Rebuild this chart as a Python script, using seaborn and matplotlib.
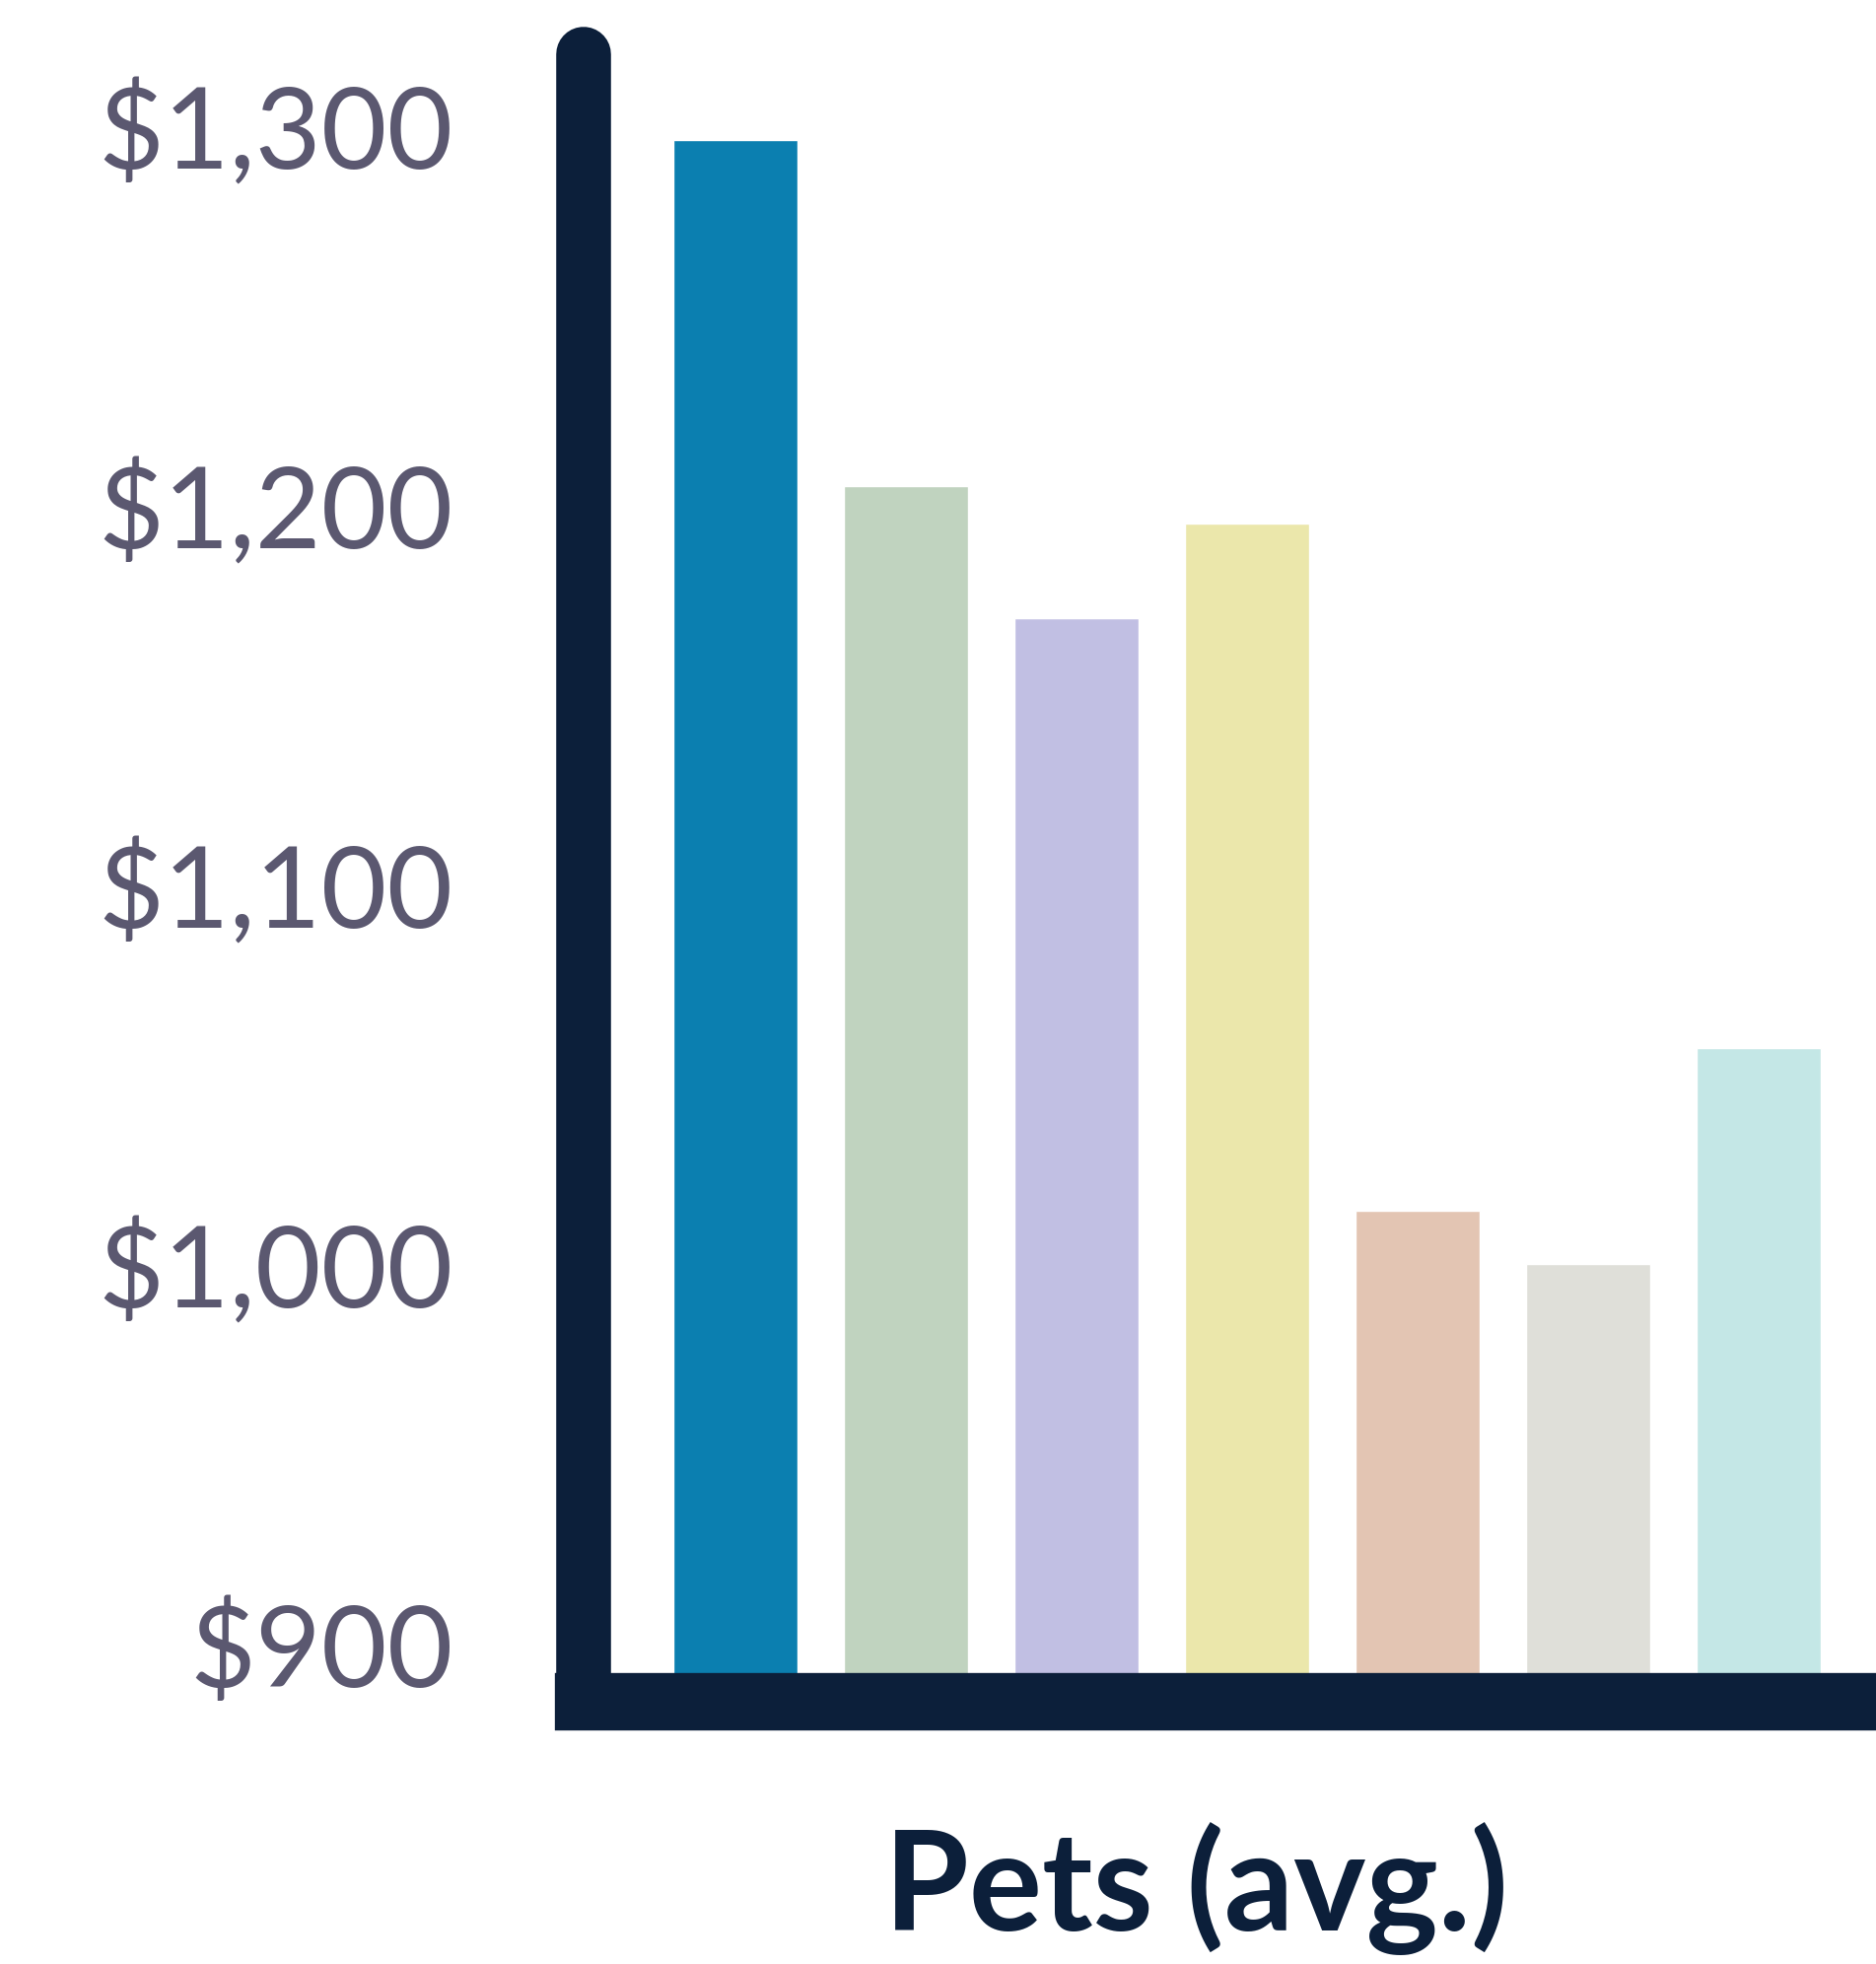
"""Bar chart of average pet costs, recreated with seaborn."""

import matplotlib

matplotlib.use("Agg")
import matplotlib.pyplot as plt
import pandas as pd
import seaborn as sns

# Data
categories = ["A", "B", "C", "D", "E", "F", "G"]
values = [1296, 1205, 1170, 1195, 1014, 1000, 1057]
bar_colors = ["#0B7FB0", "#C0D3BF", "#C1BFE3", "#EBE7AB", "#E3C5B3", "#DFDFD9", "#C4E7E6"]
yticks = [900, 1000, 1100, 1200, 1300]
ytick_labels = ["$900", "$1,000", "$1,100", "$1,200", "$1,300"]
xlabel = "Pets (avg.)"

NAVY = "#0C1F3A"
GREY = "#5B5870"

sns.set_theme(style="white")
plt.rcParams["font.family"] = ["Lato", "DejaVu Sans"]

df = pd.DataFrame({"category": categories, "value": values})

fig = plt.figure(figsize=(19.03, 19.92), dpi=100)
ax = fig.add_axes([0.311, 0.1335, 0.689, 0.839])

sns.barplot(
    data=df,
    x="category",
    y="value",
    hue="category",
    palette=bar_colors,
    legend=False,
    width=0.727,
    saturation=1,
    ax=ax,
)

ax.set_xlim(-0.89, 6.69)
ax.set_ylim(884.7, 1318.7)

ax.set_yticks(yticks)
ax.set_yticklabels(ytick_labels)
ax.set_xticks([])
ax.tick_params(axis="y", length=0, pad=95, labelsize=83, labelcolor=GREY)

for side in ("top", "right"):
    ax.spines[side].set_visible(False)
ax.spines["left"].set_linewidth(40)
ax.spines["left"].set_color(NAVY)
ax.spines["left"].set_capstyle("round")
ax.spines["bottom"].set_linewidth(42)
ax.spines["bottom"].set_color(NAVY)
ax.spines["bottom"].set_capstyle("projecting")

ax.set_ylabel("")
ax.set_xlabel(xlabel, fontsize=100, fontweight="bold", color=NAVY)
ax.xaxis.set_label_coords(0.474, -0.073)

fig.savefig("out.png", dpi=100, facecolor="white")
